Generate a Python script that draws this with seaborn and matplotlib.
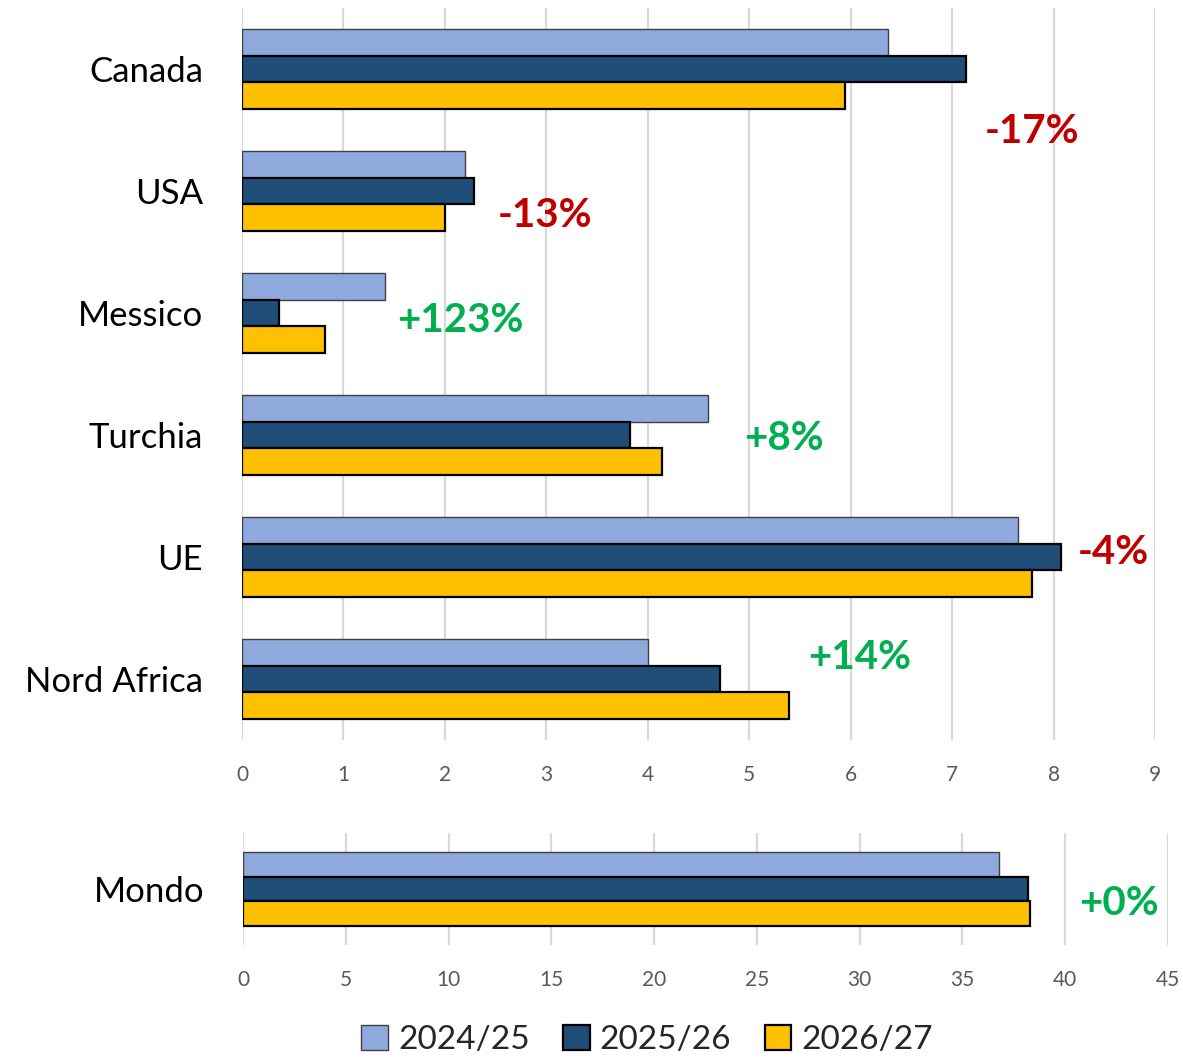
import pandas as pd
import matplotlib.pyplot as plt
import seaborn as sns

# dati
paesi = ['Canada', 'USA', 'Messico', 'Turchia', 'UE', 'Nord Africa']
stagioni = ['2024/25', '2025/26', '2026/27']
v_2425 = [6.37, 2.20, 1.41, 4.59, 7.65, 4.00]
v_2526 = [7.14, 2.29, 0.36, 3.82, 8.07, 4.71]
v_2627 = [5.94, 2.00, 0.82, 4.14, 7.79, 5.39]
variazioni = ['-17%', '-13%', '+123%', '+8%', '-4%', '+14%']

mondo = ['Mondo']
mondo_2425 = [36.8]
mondo_2526 = [38.2]
mondo_2627 = [38.3]
var_mondo = '+0%'

colori = ['#8EA9DB', '#1F4E79', '#FFC000']
bordi = ['#404040', 'black', 'black']
spessori = [1.0, 1.6, 1.6]

sns.set_style('white')
plt.rcParams['font.family'] = ['Lato', 'DejaVu Sans']

def tabella(cat, a, b, c):
    rows = []
    for vals, s in zip([a, b, c], stagioni):
        for p, v in zip(cat, vals):
            rows.append({'paese': p, 'stagione': s, 'valore': v})
    return pd.DataFrame(rows)

df = tabella(paesi, v_2425, v_2526, v_2627)
df_m = tabella(mondo, mondo_2425, mondo_2526, mondo_2627)

fig = plt.figure(figsize=(11.83, 10.59), dpi=100)
ax1 = fig.add_axes([0.2046, 0.3012, 0.7717, 0.6912])
ax2 = fig.add_axes([0.2054, 0.1076, 0.7819, 0.1058])

for ax, d, xmax, step in [(ax1, df, 9, 1), (ax2, df_m, 45, 5)]:
    sns.barplot(data=d, y='paese', x='valore', hue='stagione', orient='h',
                palette=colori, saturation=1, width=0.66, ax=ax, legend=False, zorder=2)
    for cont, ec, lw in zip(ax.containers, bordi, spessori):
        for bar in cont:
            bar.set_edgecolor(ec)
            bar.set_linewidth(lw)
    ax.set_xlim(0, xmax)
    ax.set_xticks(range(0, xmax + 1, step))
    ax.grid(axis='x', color='#D9D9D9', linewidth=1.6, zorder=0)
    ax.set_axisbelow(True)
    for s in ax.spines.values():
        s.set_visible(False)
    ax.tick_params(axis='x', length=0, pad=18, labelsize=15, labelcolor='#595959')
    ax.tick_params(axis='y', length=0, pad=28, labelsize=25, labelcolor='black')
    ax.set_xlabel('')
    ax.set_ylabel('')

ax1.set_ylim(5.5, -0.5)
ax2.set_ylim(0.5, -0.5)

# etichette di variazione
pos = [(7.79, 0.51), (2.99, 1.20), (2.15, 2.06), (5.34, 3.03), (8.59, 3.96), (6.09, 4.82)]
for (x, y), t in zip(pos, variazioni):
    col = '#C00000' if t.startswith('-') else '#00B050'
    ax1.text(x, y, t, color=col, fontsize=29, fontweight='bold', ha='center', va='center')
ax2.text(42.6, 0.13, var_mondo, color='#00B050', fontsize=29, fontweight='bold',
         ha='center', va='center')

# legenda
fig.legend(ax1.containers, stagioni, loc='center', bbox_to_anchor=(0.547, 0.018), ncol=3,
           frameon=False, fontsize=24, handlelength=0.8, handleheight=0.8,
           handletextpad=0.3, columnspacing=1.0, borderaxespad=0)

fig.savefig('out.png', dpi=100)
